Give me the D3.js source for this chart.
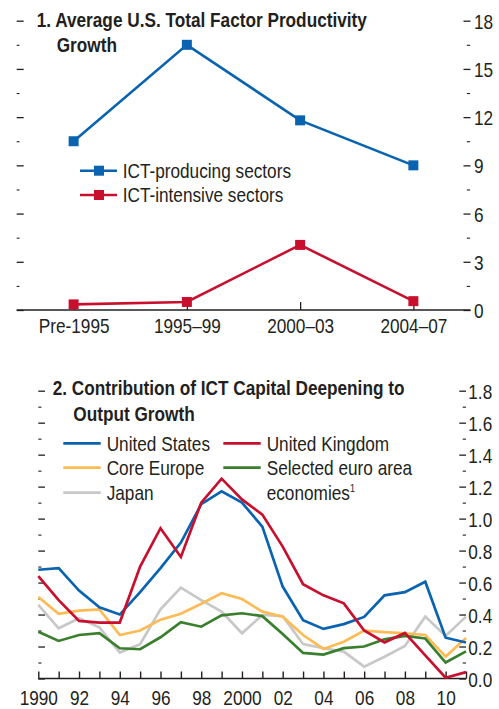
<!DOCTYPE html>
<html><head><meta charset="utf-8">
<script src="https://cdn.jsdelivr.net/npm/d3@7"></script>
<style>
body{margin:0;background:#fff}
svg{display:block}
text{font-family:"Liberation Sans",Arial,sans-serif;fill:#231f20}
</style>
</head><body>
<svg id="c" width="499" height="709"></svg>
<script>
// ---------- Panel 1 data ----------
const periods = ["Pre-1995", "1995–99", "2000–03", "2004–07"];
const ictProducing = [10.5, 16.5, 11.8, 9.0];
const ictIntensive = [0.35, 0.5, 4.05, 0.55];
const tfpMajorTicks = [0, 3, 6, 9, 12, 15, 18];
const tfpMinorTicks = [1.5, 4.5, 7.5, 10.5, 13.5, 16.5];

// ---------- Panel 2 data ----------
const years = [1990,1991,1992,1993,1994,1995,1996,1997,1998,1999,2000,2001,2002,2003,2004,2005,2006,2007,2008,2009,2010,2011];
const unitedStates = [0.68,0.69,0.55,0.445,0.40,0.54,0.69,0.85,1.09,1.17,1.10,0.95,0.575,0.365,0.31,0.34,0.385,0.52,0.54,0.605,0.255,0.225];
const unitedKingdom = [0.64,0.49,0.36,0.35,0.35,0.70,0.94,0.76,1.10,1.25,1.12,1.025,0.825,0.59,0.52,0.47,0.30,0.225,0.285,0.145,0.005,0.04];
const coreEurope = [0.51,0.405,0.425,0.432,0.272,0.30,0.368,0.405,0.468,0.533,0.497,0.418,0.387,0.272,0.185,0.23,0.30,0.29,0.283,0.272,0.137,0.253];
const selectedEuro = [0.293,0.235,0.272,0.283,0.189,0.183,0.258,0.352,0.324,0.395,0.408,0.39,0.278,0.16,0.15,0.19,0.20,0.245,0.266,0.25,0.10,0.17];
const japan = [0.46,0.314,0.377,0.32,0.162,0.214,0.433,0.568,0.49,0.418,0.283,0.397,0.39,0.216,0.189,0.168,0.074,0.136,0.203,0.387,0.266,0.387];
const yearLabelYears = [1990,1992,1994,1996,1998,2000,2002,2004,2006,2008,2010];
const yearLabels = ["1990","92","94","96","98","2000","02","04","06","08","10"];
const contribMajorTicks = [0,0.2,0.4,0.6,0.8,1.0,1.2,1.4,1.6,1.8];
const contribMinorTicks = [0.1,0.3,0.5,0.7,0.9,1.1,1.3,1.5,1.7];

const INK = "#231f20";
const BLUE = "#0a63b0", RED = "#c8102e", YELLOW = "#fdbb55", GREEN = "#3a7f2e", GRAY = "#c8c8c8";
const FS = 21;
const NARROW = 0.82;

const svg = d3.select("#c");
svg.append("rect").attr("width",499).attr("height",709).attr("fill","#fff");

function styleAxis(g, sw){
  g.select(".domain").remove();
  g.selectAll(".tick line").attr("stroke",INK).attr("stroke-width",sw);
  g.selectAll(".tick text").attr("fill",INK).style("font-size",FS+"px").attr("font-family",null);
}

// ================= Panel 1 =================
const p1 = svg.append("g");
const x1 = d3.scalePoint().domain(periods).range([17,470]).padding(0.5);
const y1 = d3.scaleLinear().domain([0,18]).range([310,20.7]);

p1.append("g").attr("transform","translate(16.7,0)")
  .call(d3.axisRight(y1).tickValues(tfpMajorTicks).tickSize(7).tickFormat(""))
  .call(g=>styleAxis(g,1.3));
p1.append("g").attr("transform","translate(16.7,0)")
  .call(d3.axisRight(y1).tickValues(tfpMinorTicks).tickSize(2.8).tickFormat(""))
  .call(g=>styleAxis(g,1.1));
p1.append("g").attr("transform","translate(463.5,0)")
  .call(d3.axisRight(y1).tickValues(tfpMajorTicks).tickSize(7).tickPadding(3.5).tickFormat(d3.format("d")))
  .call(g=>styleAxis(g,1.3))
  .call(g=>g.selectAll(".tick text").attr("dy","0.36em"));
p1.append("g").attr("transform","translate(466.8,0)")
  .call(d3.axisRight(y1).tickValues(tfpMinorTicks).tickSize(3.3).tickFormat(""))
  .call(g=>styleAxis(g,1.1));
p1.append("line").attr("x1",16.7).attr("x2",470.5).attr("y1",310).attr("y2",310)
  .attr("stroke",INK).attr("stroke-width",1.5);
p1.append("g").attr("transform","translate(0,310)")
  .call(d3.axisBottom(x1).tickSize(-8).tickPadding(8.2))
  .call(g=>styleAxis(g,1.3));

const line1 = d3.line().x((d,i)=>x1(periods[i])).y(d=>y1(d));
[[ictIntensive,RED],[ictProducing,BLUE]].forEach(([vals,col])=>{
  p1.append("path").datum(vals).attr("d",line1).attr("fill","none")
    .attr("stroke",col).attr("stroke-width",2.6);
  p1.selectAll(null).data(vals).join("rect")
    .attr("x",(d,i)=>x1(periods[i])-5).attr("y",d=>y1(d)-5)
    .attr("width",10).attr("height",10).attr("fill",col);
});

p1.append("text").attr("x",36.7).attr("y",26.7).attr("font-weight","bold").style("font-size",FS+"px")
  .text("1. Average U.S. Total Factor Productivity");
p1.append("text").attr("x",56.7).attr("y",51.7).attr("font-weight","bold").style("font-size",FS+"px")
  .text("Growth");

const leg1 = [["ICT-producing sectors",BLUE,170.7],["ICT-intensive sectors",RED,195]];
leg1.forEach(([lab,col,yy])=>{
  p1.append("line").attr("x1",80).attr("x2",117).attr("y1",yy).attr("y2",yy)
    .attr("stroke",col).attr("stroke-width",2.6);
  p1.append("rect").attr("x",94).attr("y",yy-5).attr("width",10).attr("height",10).attr("fill",col);
  p1.append("text").attr("x",122.7).attr("y",yy+7.5).style("font-size",FS+"px").text(lab);
});

// ================= Panel 2 =================
const p2 = svg.append("g");
const x2 = d3.scaleLinear().domain([1990,2011]).range([38.3,466]);
const y2 = d3.scaleLinear().domain([0,1.8]).range([678.5,390.7]);

p2.append("g").attr("transform","translate(38.3,0)")
  .call(d3.axisRight(y2).tickValues(contribMajorTicks).tickSize(6.7).tickFormat(""))
  .call(g=>styleAxis(g,1.3));
p2.append("g").attr("transform","translate(38.3,0)")
  .call(d3.axisRight(y2).tickValues(contribMinorTicks).tickSize(3.2).tickFormat(""))
  .call(g=>styleAxis(g,1.1));
p2.append("g").attr("transform","translate(459.3,0)")
  .call(d3.axisRight(y2).tickValues(contribMajorTicks).tickSize(6.7).tickPadding(2.3).tickFormat(d3.format(".1f")))
  .call(g=>styleAxis(g,1.3))
  .call(g=>g.selectAll(".tick text").attr("dy","0.36em"));
p2.append("g").attr("transform","translate(462.7,0)")
  .call(d3.axisRight(y2).tickValues(contribMinorTicks).tickSize(3.3).tickFormat(""))
  .call(g=>styleAxis(g,1.1));

p2.append("line").attr("x1",38.3).attr("x2",466.5).attr("y1",678.5).attr("y2",678.5)
  .attr("stroke",INK).attr("stroke-width",1.6);
p2.append("g").attr("transform","translate(0,678.5)")
  .call(d3.axisBottom(x2).tickValues(years).tickSize(-7).tickPadding(11.6)
    .tickFormat(d=>{const k=yearLabelYears.indexOf(d);return k>=0?yearLabels[k]:"";}))
  .call(g=>styleAxis(g,1.4));

const line2 = d3.line().x((d,i)=>x2(years[i])).y(d=>y2(d));
const series2 = [
  ["Japan",japan,GRAY],
  ["Core Europe",coreEurope,YELLOW],
  ["Selected euro area economies",selectedEuro,GREEN],
  ["United States",unitedStates,BLUE],
  ["United Kingdom",unitedKingdom,RED]
];
series2.forEach(([n,vals,col])=>{
  p2.append("path").datum(vals).attr("d",line2).attr("fill","none")
    .attr("stroke",col).attr("stroke-width",2.7).attr("stroke-linejoin","miter");
});

p2.append("text").attr("x",52.7).attr("y",395).attr("font-weight","bold").style("font-size",FS+"px")
  .text("2. Contribution of ICT Capital Deepening to");
p2.append("text").attr("x",73.3).attr("y",420.7).attr("font-weight","bold").style("font-size",FS+"px")
  .text("Output Growth");

const leg2 = [
  ["United States",BLUE,63.3,443.3],
  ["Core Europe",YELLOW,63.3,467.7],
  ["Japan",GRAY,63.3,492.7],
  ["United Kingdom",RED,223.3,443.3],
  ["Selected euro area",GREEN,223.3,467.7]
];
leg2.forEach(([lab,col,xx,yy])=>{
  p2.append("line").attr("x1",xx).attr("x2",xx+37.4).attr("y1",yy).attr("y2",yy)
    .attr("stroke",col).attr("stroke-width",2.8);
  p2.append("text").attr("x",xx+43.4).attr("y",yy+7.7).style("font-size",FS+"px").text(lab);
});
const econ = p2.append("text").attr("x",266.7).attr("y",500.4).style("font-size",FS+"px");
econ.append("tspan").text("economies");
econ.append("tspan").attr("dy",-8).style("font-size","11px").text("1");

// condense all text horizontally (narrow typeface look), anchored at each text's x
svg.selectAll("text").each(function(){
  const x = +(this.getAttribute("x")||0);
  d3.select(this).attr("transform",`translate(${x},0) scale(${NARROW},1) translate(${-x},0)`);
});
</script>
</body></html>
